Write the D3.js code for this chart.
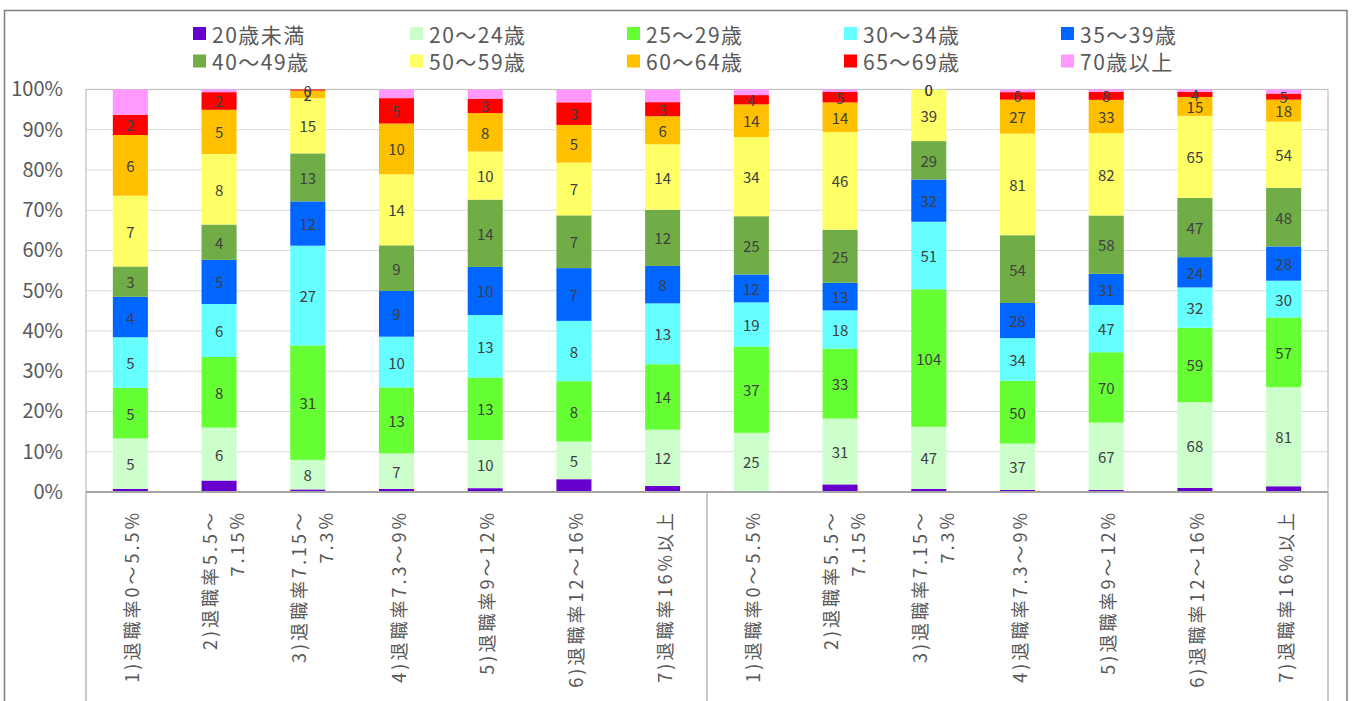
<!DOCTYPE html>
<html><head><meta charset="utf-8">
<script src="https://cdn.jsdelivr.net/npm/d3@7"></script>
<style>
html,body{margin:0;padding:0;background:#fff;}
svg{display:block;font-family:"Noto Sans CJK JP","Noto Sans",sans-serif;}
</style></head>
<body>
<svg id="chart" width="1357" height="701"></svg>
<script>
// ---- data ----
const categories = [
  ["1)退職率0〜5.5%"], ["2)退職率5.5〜","7.15%"], ["3)退職率7.15〜","7.3%"], ["4)退職率7.3〜9%"],
  ["5)退職率9〜12%"], ["6)退職率12〜16%"], ["7)退職率16%以上"],
  ["1)退職率0〜5.5%"], ["2)退職率5.5〜","7.15%"], ["3)退職率7.15〜","7.3%"], ["4)退職率7.3〜9%"],
  ["5)退職率9〜12%"], ["6)退職率12〜16%"], ["7)退職率16%以上"]
];
const seriesNames = ["20歳未満","20〜24歳","25〜29歳","30〜34歳","35〜39歳","40〜49歳","50〜59歳","60〜64歳","65〜69歳","70歳以上"];
const seriesColors = ["#6600CC","#CCFFCC","#66FF33","#66FFFF","#0066FF","#70AD47","#FFFF66","#FFC000","#FF0000","#FF99FF"];
const labeledSeries = [false,true,true,true,true,true,true,true,true,false];

const under20 = [0.3, 1.3, 0.7, 0.6, 0.8, 1.7, 1.3, 0.4, 3.6, 2.3, 1.6, 2.0, 3.2, 4.7];
const age20_24 = [5, 6, 8, 7, 10, 5, 12, 25, 31, 47, 37, 67, 68, 81];
const age25_29 = [5, 8, 31, 13, 13, 8, 14, 37, 33, 104, 50, 70, 59, 57];
const age30_34 = [5, 6, 27, 10, 13, 8, 13, 19, 18, 51, 34, 47, 32, 30];
const age35_39 = [4, 5, 12, 9, 10, 7, 8, 12, 13, 32, 28, 31, 24, 28];
const age40_49 = [3, 4, 13, 9, 14, 7, 12, 25, 25, 29, 54, 58, 47, 48];
const age50_59 = [7, 8, 15, 14, 10, 7, 14, 34, 46, 39, 81, 82, 65, 54];
const age60_64 = [6, 5, 2, 10, 8, 5, 6, 14, 14, 0, 27, 33, 15, 18];
const age65_69 = [2, 2, 0.3, 5, 3, 3, 3, 4, 5, 0, 6, 8, 4, 5];
const over70 = [2.5, 0.3, 0, 1.7, 1.9, 1.7, 2.7, 2.4, 1.1, 0, 2.1, 2.3, 1.9, 3.3];
const yTicks = ["0%","10%","20%","30%","40%","50%","60%","70%","80%","90%","100%"];

const seriesValues = [under20, age20_24, age25_29, age30_34, age35_39, age40_49, age50_59, age60_64, age65_69, over70];

// ---- layout ----
const svg = d3.select("#chart");
const plot = {left: 86, right: 1328, top: 89.5, bottom: 492};
const textGray = "#595959";

// outer chart border
svg.append("rect").attr("x", 4.5).attr("y", 10.5).attr("width", 1342.5).attr("height", 720)
  .attr("fill", "none").attr("stroke", "#7F7F7F").attr("stroke-width", 1.5);

const x = d3.scaleBand().domain(d3.range(categories.length)).range([plot.left, plot.right])
  .paddingInner(0.605).paddingOuter(0.3025);
const y = d3.scaleLinear().domain([0, 1]).range([plot.bottom, plot.top]);

// gridlines
svg.append("g").selectAll("line").data(d3.range(1, 10).map(i => i / 10)).join("line")
  .attr("x1", plot.left).attr("x2", plot.right)
  .attr("y1", d => y(d)).attr("y2", d => y(d))
  .attr("stroke", "#D9D9D9").attr("stroke-width", 1);

// plot area border
svg.append("rect").attr("x", plot.left).attr("y", plot.top)
  .attr("width", plot.right - plot.left).attr("height", plot.bottom - plot.top)
  .attr("fill", "none").attr("stroke", "#BFBFBF").attr("stroke-width", 1.2);

// y axis tick labels
const yAxis = d3.axisLeft(y).tickValues(d3.range(0, 11).map(i => i / 10))
  .tickFormat((d, i) => yTicks[i]).tickSize(0).tickPadding(23);
const yg = svg.append("g").attr("transform", `translate(${plot.left},0)`).call(yAxis);
yg.select(".domain").remove();
yg.selectAll("text").attr("font-size", 20).attr("fill", textGray)
  .attr("font-family", '"Noto Sans CJK JP",sans-serif');

// stacked data (percent)
const rows = categories.map((c, i) => {
  const r = {i};
  seriesValues.forEach((s, k) => r["s" + k] = s[i]);
  return r;
});
const keys = seriesValues.map((s, k) => "s" + k);
const totals = rows.map(r => d3.sum(keys, k => r[k]));
const pctRows = rows.map((r, i) => {
  const o = {i};
  keys.forEach(k => o[k] = r[k] / totals[i]);
  return o;
});
const stacked = d3.stack().keys(keys)(pctRows);

const barG = svg.append("g");
stacked.forEach((layer, k) => {
  barG.append("g").attr("fill", seriesColors[k]).selectAll("rect").data(layer).join("rect")
    .attr("x", d => x(d.data.i)).attr("width", x.bandwidth())
    .attr("y", d => y(d[1])).attr("height", d => Math.max(0, y(d[0]) - y(d[1])));
});

// data labels
const labG = svg.append("g");
stacked.forEach((layer, k) => {
  if (!labeledSeries[k]) return;
  labG.selectAll(null).data(layer).join("text")
    .attr("x", d => x(d.data.i) + x.bandwidth() / 2)
    .attr("y", d => (y(d[0]) + y(d[1])) / 2)
    .attr("text-anchor", "middle").attr("dominant-baseline", "central")
    .attr("font-size", 15).attr("fill", "#404040")
    .text(d => Math.round(seriesValues[k][d.data.i]));
});

// x axis line
svg.append("line").attr("x1", plot.left).attr("x2", plot.right)
  .attr("y1", plot.bottom).attr("y2", plot.bottom)
  .attr("stroke", "#A6A6A6").attr("stroke-width", 2);

// group separator lines below axis
const step = x.step();
[0, 7, 14].forEach(g => {
  const gx = plot.left + g * step;
  svg.append("line").attr("x1", gx).attr("x2", gx).attr("y1", plot.bottom).attr("y2", 701)
    .attr("stroke", "#A6A6A6").attr("stroke-width", 1.2);
});

// category labels (rotated)
const catG = svg.append("g");
categories.forEach((lines, i) => {
  const cx = x(i) + x.bandwidth() / 2;
  const offs = lines.length === 1 ? [1] : [-10, 17];
  lines.forEach((t, j) => {
    catG.append("text")
      .attr("transform", `translate(${cx + offs[j]},510) rotate(-90)`)
      .attr("text-anchor", "end").attr("dominant-baseline", "central")
      .attr("font-size", 18).attr("letter-spacing", "3px").attr("fill", textGray)
      .text(t);
  });
});

// legend
const legG = svg.append("g");
seriesNames.forEach((n, k) => {
  const col = k % 5, row = Math.floor(k / 5);
  const lx = 193 + col * 217, ly = 33.5 + row * 27.5;
  legG.append("rect").attr("x", lx).attr("y", ly - 6.5).attr("width", 13).attr("height", 13)
    .attr("fill", seriesColors[k]);
  legG.append("text").attr("x", lx + 19).attr("y", ly)
    .attr("dominant-baseline", "central").attr("font-size", 21).attr("letter-spacing", "1.5px")
    .attr("fill", textGray).text(n);
});
</script>
</body></html>
